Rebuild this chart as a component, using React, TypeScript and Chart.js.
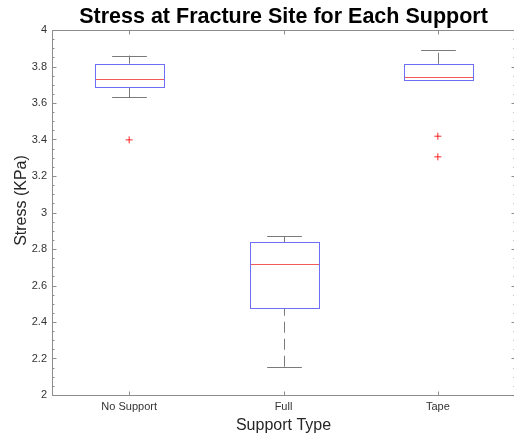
import React, { useEffect, useRef } from 'react';
import { Chart, registerables } from 'chart.js';

Chart.register(...registerables);

// ---- data ----
const categories = ['No Support', 'Full', 'Tape'];
const lowerWhisker = [3.632, 2.155, 3.725];
const q1 = [3.685, 2.474, 3.725];
const median = [3.73, 2.719, 3.741];
const q3 = [3.815, 2.836, 3.815];
const upperWhisker = [3.86, 2.87, 3.889];
const outlierCategory = ['No Support', 'Tape', 'Tape'];
const outlierValues = [3.398, 3.418, 3.305];
const yMin = 2;
const yMax = 4;
const yStep = 0.2;
const yMinorStep = 0.05;

const titleText = 'Stress at Fracture Site for Each Support';
const xTitleText = 'Support Type';
const yTitleText = 'Stress (KPa)';

const FONT = "'Liberation Sans', Arial, Helvetica, sans-serif";
const AXIS_COLOR = '#8c8c8c';
const BOX_COLOR = '#6f6ff5';
const MEDIAN_COLOR = '#f05a5a';
const WHISKER_COLOR = '#7a7a7a';

const matlabPlugin = {
  id: 'matlabBoxplot',
  beforeDatasetsDraw(chart: any) {
    const ctx = chart.ctx as CanvasRenderingContext2D;
    const ca = chart.chartArea;
    const xs = chart.scales.x;
    const ys = chart.scales.y;
    ctx.save();
    // axes box
    ctx.strokeStyle = AXIS_COLOR;
    ctx.lineWidth = 1;
    const L = Math.round(ca.left) + 0.5;
    const R = Math.round(ca.right) + 0.5;
    const T = Math.round(ca.top) + 0.5;
    const B = Math.round(ca.bottom) + 0.5;
    ctx.beginPath();
    ctx.moveTo(L, T); ctx.lineTo(R, T);
    ctx.moveTo(L, B); ctx.lineTo(R, B);
    ctx.moveTo(L, T); ctx.lineTo(L, B);
    ctx.moveTo(R, T); ctx.lineTo(R, B);
    // y ticks (major + minor), inward on both sides
    const n = Math.round((yMax - yMin) / yMinorStep);
    const ratio = Math.round(yStep / yMinorStep);
    for (let i = 0; i <= n; i++) {
      const v = yMin + i * yMinorStep;
      const py = Math.round(ys.getPixelForValue(v)) + 0.5;
      const len = i % ratio === 0 ? 4 : 2;
      ctx.moveTo(L, py); ctx.lineTo(L + len, py);
      ctx.moveTo(R, py); ctx.lineTo(R - len, py);
    }
    // x ticks, inward on top and bottom
    categories.forEach((_, i) => {
      const px = Math.round(xs.getPixelForValue(i)) + 0.5;
      ctx.moveTo(px, B); ctx.lineTo(px, B - 4);
      ctx.moveTo(px, T); ctx.lineTo(px, T + 4);
    });
    ctx.stroke();

    // boxes
    const unit = xs.getPixelForValue(1) - xs.getPixelForValue(0);
    const bw = 0.225 * unit;
    const cw = 0.1125 * unit;
    categories.forEach((_, i) => {
      const cx = Math.round(xs.getPixelForValue(i)) + 0.5;
      const yl = ys.getPixelForValue(lowerWhisker[i]);
      const y1 = ys.getPixelForValue(q1[i]);
      const ym = ys.getPixelForValue(median[i]);
      const y3 = ys.getPixelForValue(q3[i]);
      const yu = ys.getPixelForValue(upperWhisker[i]);
      // whiskers (dashed, drawn bottom-to-top)
      ctx.strokeStyle = WHISKER_COLOR;
      ctx.setLineDash([11, 6]);
      if (yu < y3) {
        ctx.beginPath();
        ctx.moveTo(cx, y3); ctx.lineTo(cx, yu);
        ctx.stroke();
      }
      if (yl > y1) {
        ctx.beginPath();
        ctx.moveTo(cx, yl); ctx.lineTo(cx, y1);
        ctx.stroke();
      }
      ctx.setLineDash([]);
      // caps
      ctx.beginPath();
      const yuR = Math.round(yu) + 0.5;
      const ylR = Math.round(yl) + 0.5;
      ctx.moveTo(cx - cw, yuR); ctx.lineTo(cx + cw, yuR);
      ctx.moveTo(cx - cw, ylR); ctx.lineTo(cx + cw, ylR);
      ctx.stroke();
      // box
      ctx.strokeStyle = BOX_COLOR;
      const bx = Math.round(cx - bw) + 0.5;
      const bxr = Math.round(cx + bw) + 0.5;
      const by3 = Math.round(y3) + 0.5;
      const by1 = Math.round(y1) + 0.5;
      ctx.strokeRect(bx, by3, bxr - bx, by1 - by3);
      // median
      ctx.strokeStyle = MEDIAN_COLOR;
      const ymR = Math.round(ym) + 0.5;
      ctx.beginPath();
      ctx.moveTo(bx + 0.5, ymR); ctx.lineTo(bxr - 0.5, ymR);
      ctx.stroke();
    });
    ctx.restore();
  },
  afterDraw(chart: any) {
    const ctx = chart.ctx as CanvasRenderingContext2D;
    const ca = chart.chartArea;
    ctx.save();
    ctx.translate(22, (ca.top + ca.bottom) / 2 - 12);
    ctx.rotate(-Math.PI / 2);
    ctx.font = `16px ${FONT}`;
    ctx.fillStyle = '#262626';
    ctx.textAlign = 'center';
    ctx.textBaseline = 'middle';
    ctx.fillText(yTitleText, 0, 0);
    ctx.restore();
  },
};

export default function App() {
  const ref = useRef<HTMLCanvasElement | null>(null);

  useEffect(() => {
    if (!ref.current) return;
    const chart = new Chart(ref.current, {
      type: 'scatter',
      data: {
        labels: categories,
        datasets: [
          {
            label: 'Outliers',
            data: outlierCategory.map((c, i) => ({ x: c, y: outlierValues[i] })) as any,
            showLine: false,
            pointStyle: 'cross',
            pointRadius: 3.5,
            pointBorderColor: 'rgba(255,0,0,0.85)',
            pointBorderWidth: 1,
            borderColor: 'rgba(255,0,0,0.85)',
            backgroundColor: 'rgba(255,0,0,0.85)',
          },
        ],
      },
      options: {
        animation: false,
        responsive: false,
        devicePixelRatio: 1,
        layout: { padding: { left: 0, right: 5, top: 0, bottom: 0 } },
        plugins: {
          legend: { display: false },
          tooltip: { enabled: false },
          title: {
            display: true,
            text: titleText,
            fullSize: false,
            color: '#000',
            font: { family: FONT, size: 21.5, weight: 'bold', lineHeight: 1.2 },
            padding: { top: 4.2, bottom: 0 },
          },
        },
        scales: {
          x: {
            type: 'category',
            labels: categories,
            offset: true,
            grid: { display: false, drawTicks: false },
            border: { display: false },
            ticks: {
              color: '#333',
              font: { family: FONT, size: 11 },
              padding: 5,
              maxRotation: 0,
            },
            title: {
              display: true,
              text: xTitleText,
              color: '#262626',
              font: { family: FONT, size: 16, lineHeight: 1.2 },
              padding: { top: 0, bottom: 3 },
            },
            afterFit: (s: any) => { s.height = 43; },
          },
          y: {
            type: 'linear',
            min: yMin,
            max: yMax,
            grid: { display: false, drawTicks: false },
            border: { display: false },
            ticks: {
              stepSize: yStep,
              color: '#333',
              font: { family: FONT, size: 11 },
              padding: 5,
              callback: (v: any) => Number(Number(v).toFixed(1)).toString(),
            },
            afterFit: (s: any) => { s.width = 52; },
          },
        },
      },
      plugins: [matlabPlugin],
    });
    return () => chart.destroy();
  }, []);

  return (
    <div
      style={{
        position: 'fixed',
        left: 0,
        top: 0,
        width: 514,
        height: 438,
        overflow: 'hidden',
        background: '#fff',
      }}
    >
      <canvas ref={ref} width={520} height={438} style={{ width: 520, height: 438, display: 'block' }} />
    </div>
  );
}
